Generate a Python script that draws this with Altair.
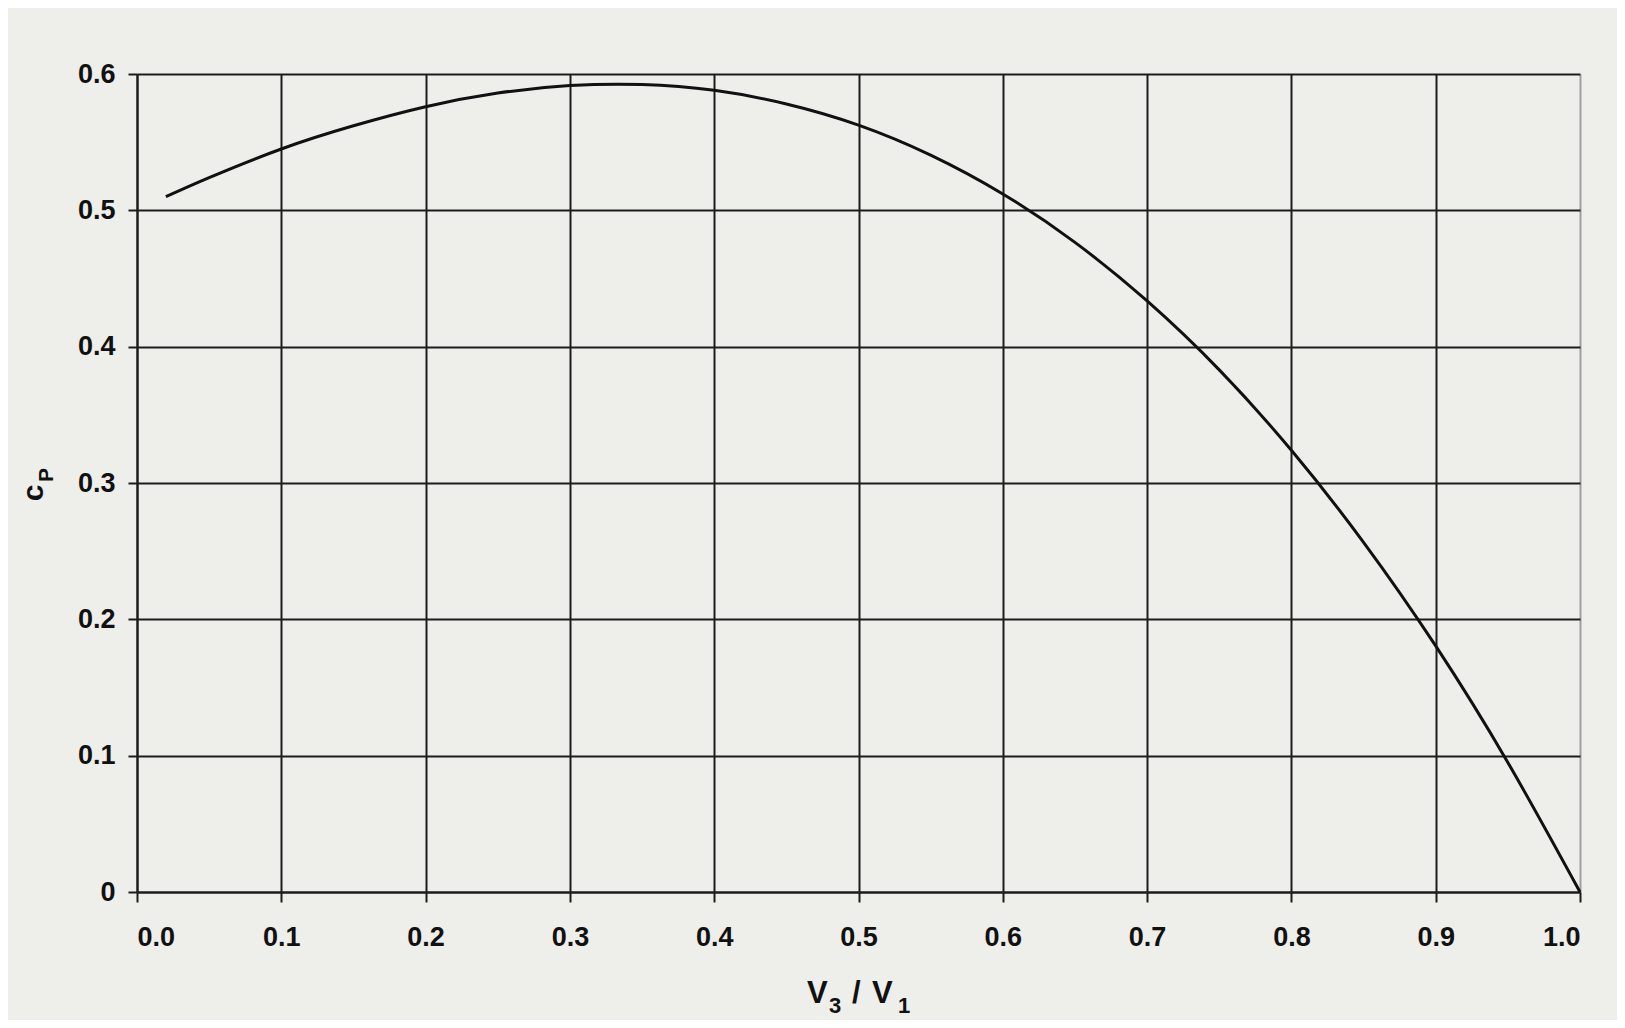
import altair as alt
import pandas as pd

# Curve: c_P against V3/V1
ratio = [0.02, 0.05, 0.10, 0.15, 0.20, 0.25, 0.30, 0.35, 0.40, 0.45, 0.50,
         0.55, 0.60, 0.65, 0.70, 0.75, 0.80, 0.85, 0.90, 0.95, 1.00]
cp = [0.510, 0.524, 0.545, 0.562, 0.576, 0.586, 0.5915, 0.5923, 0.588, 0.578, 0.5625,
      0.5405, 0.512, 0.4765, 0.4335, 0.383, 0.324, 0.2565, 0.1805, 0.095, 0.000]

x_ticks = [0.0, 0.1, 0.2, 0.3, 0.4, 0.5, 0.6, 0.7, 0.8, 0.9, 1.0]
y_ticks = [0.0, 0.1, 0.2, 0.3, 0.4, 0.5, 0.6]

# Axis title pieces (text, font size, x offset, baseline offset)
x_title_parts = [("V", 31, 670, 929), ("3", 22, 692, 939), ("/", 31, 715, 929),
                 ("V", 31, 735, 929), ("1", 22, 761, 939)]
y_title_parts = [("c", 30, -94, 419), ("P", 21, -84, 401)]

df = pd.DataFrame({"r": ratio, "cp": cp})

W, H = 1443, 818
FONT = "Liberation Sans"
INK = "#1c1c1c"
TXT = "#111111"

grid_color = {"condition": {"test": "datum.value >= 0.999", "value": "#a0a0a0"}, "value": INK}

x_enc = alt.X("r:Q", scale=alt.Scale(domain=[0, 1], nice=False),
              axis=alt.Axis(values=x_ticks, format=".1f", grid=True, gridColor=grid_color,
                            gridWidth=2, domainColor=INK, domainWidth=2, tickColor=INK,
                            tickWidth=2, tickSize=10, labelPadding=22, labelFont=FONT,
                            labelFontSize=27, labelFontWeight="bold", labelColor=TXT,
                            title=None))
y_enc = alt.Y("cp:Q", scale=alt.Scale(domain=[0, 0.6], nice=False),
              axis=alt.Axis(values=y_ticks, labelExpr="datum.value == 0 ? '0' : format(datum.value, '.1f')",
                            grid=True, gridColor=INK, gridWidth=2, domainColor=INK, domainWidth=2,
                            tickColor=INK, tickWidth=2, tickSize=9, labelPadding=13,
                            labelFont=FONT, labelFontSize=27, labelFontWeight="bold",
                            labelColor=TXT, title=None))

curve = alt.Chart(df).mark_line(color="#111", strokeWidth=3, interpolate="natural").encode(
    x=x_enc, y=y_enc)

layers = [curve]
for t, fs, px, py in x_title_parts:
    layers.append(alt.Chart(df.head(1)).mark_text(
        text=t, font=FONT, fontSize=fs, fontWeight="bold", align="left",
        baseline="alphabetic", color=TXT).encode(x=alt.value(px), y=alt.value(py)))
for t, fs, px, py in y_title_parts:
    layers.append(alt.Chart(df.head(1)).mark_text(
        text=t, font=FONT, fontSize=fs, fontWeight="bold", angle=270, align="center",
        baseline="alphabetic", color=TXT).encode(x=alt.value(px), y=alt.value(py)))

chart = alt.layer(*layers).properties(
    width=W, height=H,
    background="#eeeeea",
    padding={"left": 129, "top": 66, "right": 37, "bottom": 128},
    autosize=alt.AutoSizeParams(type="none"),
).configure_view(stroke=None)

chart.save("out.html", embed_options={"renderer": "svg", "actions": False})
